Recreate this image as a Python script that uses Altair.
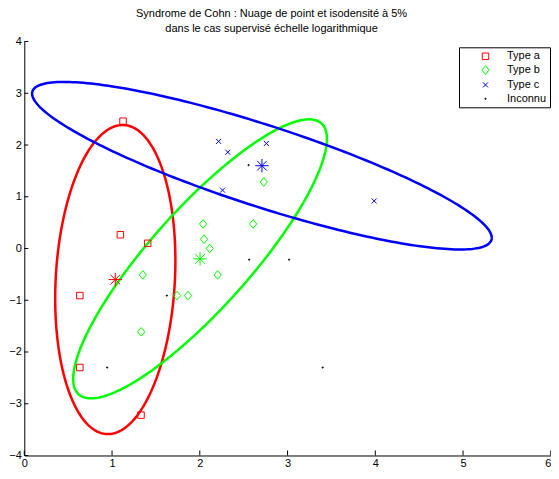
import numpy as np
import pandas as pd
import altair as alt

# ---- data ----
types = ["Type a", "Type b", "Type c", "Inconnu"]
type_colors = ["#ff0000", "#00ff00", "#0000ff", "#000000"]
a_x = [1.125, 1.095, 1.406, 0.633, 0.633, 1.33]
a_y = [2.46, 0.266, 0.10, -0.91, -2.30, -3.22]
b_x = [2.037, 2.049, 2.113, 1.35, 2.203, 2.608, 2.729, 1.741, 1.865, 1.332]
b_y = [0.475, 0.18, 0.0, -0.51, -0.51, 0.475, 1.285, -0.91, -0.91, -1.61]
c_x = [2.214, 2.319, 2.759, 2.259, 3.987]
c_y = [2.07, 1.86, 2.03, 1.127, 0.918]
u_x = [2.556, 2.563, 3.018, 1.624, 0.945, 3.40]
u_y = [1.61, -0.215, -0.215, -0.91, -2.30, -2.30]

# class means (asterisks) and 5% isodensity ellipses (spread matrices)
centers_x = [1.037, 2.003, 2.708]
centers_y = [-0.60, -0.20, 1.60]
ell_sxx = [0.469, 2.09, 6.86]
ell_syy = [8.92, 7.27, 2.62]
ell_sxy = [0.25, 3.35, -3.65]
class_colors = ["#ff0000", "#00ff00", "#0000ff"]

x_ticks = [0, 1, 2, 3, 4, 5, 6]
y_ticks = [-4, -3, -2, -1, 0, 1, 2, 3, 4]

W, H = 526.5, 414

# ---- tables ----
rows = []
for t, xs_, ys_ in zip(types, [a_x, b_x, c_x, u_x], [a_y, b_y, c_y, u_y]):
    for x, y in zip(xs_, ys_):
        rows.append({"x": x, "y": y, "type": t})
pts = pd.DataFrame(rows)

centers = pd.DataFrame({"x": centers_x, "y": centers_y, "col": class_colors})

ell_rows = []
tt = np.linspace(0, 2 * np.pi, 241)
for i in range(3):
    M = np.array([[ell_sxx[i], ell_sxy[i]], [ell_sxy[i], ell_syy[i]]])
    L = np.linalg.cholesky(M)
    P = L @ np.vstack([np.cos(tt), np.sin(tt)])
    for k in range(len(tt)):
        ell_rows.append({"x": centers_x[i] + P[0, k], "y": centers_y[i] + P[1, k],
                         "ord": k, "grp": i, "col": class_colors[i]})
ell = pd.DataFrame(ell_rows)

FONT = "Liberation Sans"
xs = alt.Scale(domain=[0, 6], nice=False, zero=False)
ys = alt.Scale(domain=[-4, 4], nice=False, zero=False)

# marker outlines (unit = half of sqrt(size) = 5 px at size 100)
SQ = "M -0.65 -0.65 L 0.65 -0.65 L 0.65 0.65 L -0.65 0.65 Z"
DIAM = "M 0 -0.86 L 0.72 0 L 0 0.86 L -0.72 0 Z"
X_PATH = "M -0.5 -0.5 L 0.5 0.5 M -0.5 0.5 L 0.5 -0.5"
DOT = "M -0.1 -0.1 L 0.1 -0.1 L 0.1 0.1 L -0.1 0.1 Z"
STAR = "M -1 0 L 1 0 M 0 -1 L 0 1 M -0.72 -0.72 L 0.72 0.72 M -0.72 0.72 L 0.72 -0.72"

leg = alt.Legend(orient="none", legendX=434.7, legendY=5.8, title=None,
                 strokeColor="black", fillColor="white", padding=3.5,
                 labelFont=FONT, labelFontSize=11, labelColor="black",
                 symbolOffset=17.5, labelOffset=16, rowPadding=1.8,
                 symbolSize=100, symbolStrokeWidth=1, cornerRadius=0)

xaxis = alt.Axis(values=x_ticks, title=None, ticks=False, grid=False, domainColor="black",
                 labelFont=FONT, labelFontSize=11, labelColor="black", labelPadding=2,
                 format="d", labelFlush=False,
                 labelAlign={"condition": {"test": "datum.value == 6", "value": "right"},
                             "value": "center"})
yaxis = alt.Axis(values=y_ticks, title=None, ticks=False, grid=False, domainColor="black",
                 labelFont=FONT, labelFontSize=11, labelColor="black", labelPadding=3,
                 format="d", labelFlush=False)

ellipses = alt.Chart(ell).mark_line(strokeWidth=2.5, clip=True).encode(
    x=alt.X("x:Q", scale=xs, axis=xaxis),
    y=alt.Y("y:Q", scale=ys, axis=yaxis),
    detail="grp:N",
    order="ord:Q",
    color=alt.Color("col:N", scale=None),
)

points = alt.Chart(pts).mark_point(filled=False, opacity=1, strokeWidth=1, size=100).encode(
    x=alt.X("x:Q", scale=xs),
    y=alt.Y("y:Q", scale=ys),
    color=alt.Color("type:N", scale=alt.Scale(domain=types, range=type_colors), legend=leg),
    shape=alt.Shape("type:N", scale=alt.Scale(domain=types, range=[SQ, DIAM, X_PATH, DOT]),
                    legend=leg),
)

stars = alt.Chart(centers).mark_point(shape=STAR, size=180, filled=False, opacity=1,
                                      strokeWidth=1).encode(
    x=alt.X("x:Q", scale=xs),
    y=alt.Y("y:Q", scale=ys),
    color=alt.Color("col:N", scale=None),
)

xt = alt.Chart(pd.DataFrame({"v": x_ticks})).mark_rule(color="black", strokeWidth=1).encode(
    x=alt.X("v:Q", scale=xs), y=alt.value(H), y2=alt.value(H - 5))
yt = alt.Chart(pd.DataFrame({"v": y_ticks})).mark_rule(color="black", strokeWidth=1).encode(
    y=alt.Y("v:Q", scale=ys), x=alt.value(0), x2=alt.value(4))

chart = alt.layer(ellipses, points, stars, xt, yt).properties(
    width=W, height=H,
    autosize=alt.AutoSizeParams(type="none"),
    padding={"left": 16.3, "top": 33.5, "right": 0, "bottom": 14.5},
    title=alt.Title(["Syndrome de Cohn : Nuage de point et isodensité à 5%",
                     "dans le cas supervisé échelle logarithmique"],
                    font=FONT, fontSize=11, fontWeight="normal", color="black",
                    anchor="middle", dx=-16, offset=1, lineHeight=15.5),
).configure_view(stroke=None).configure_axis(domainWidth=1).configure_legend(
    symbolOffset=17.5, labelOffset=16, rowPadding=1.8, padding=3.5, symbolSize=100)

chart.save("out.html", embed_options={"renderer": "svg", "actions": False})
